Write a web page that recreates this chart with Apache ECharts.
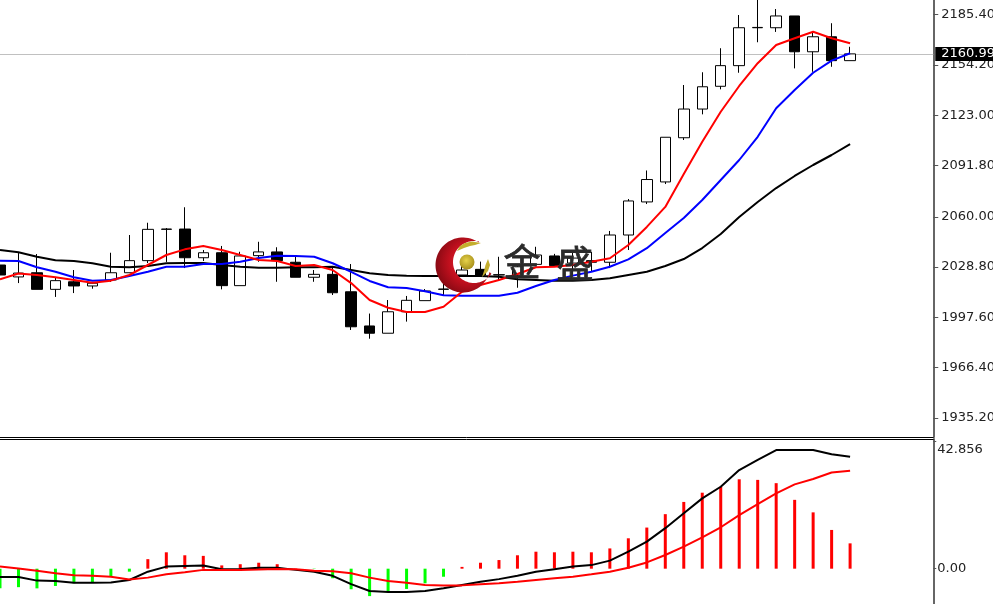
<!DOCTYPE html>
<html>
<head>
<meta charset="utf-8">
<script src="https://cdn.jsdelivr.net/npm/echarts@6/dist/echarts.min.js"></script>
<style>html,body{margin:0;padding:0;background:#fff}#c{width:993px;height:604px}</style>
</head>
<body>
<div id="c"></div>
<script>
// [open, close, low, high]
const candles = [
[2030.1,2023.9,2022.0,2033.0],[2022.7,2025.1,2018.9,2037.5],[2025.3,2015.0,2015.0,2036.9],[2015.0,2020.4,2010.3,2022.7],
[2019.7,2017.1,2012.7,2027.0],[2017.1,2018.8,2015.4,2019.0],[2020.8,2025.3,2019.6,2037.7],[2025.3,2032.8,2025.3,2048.7],
[2032.8,2052.2,2031.3,2056.3],[2052.2,2052.4,2032.0,2053.0],[2052.4,2034.6,2028.2,2065.9],[2034.6,2037.7,2032.6,2039.4],
[2037.7,2017.3,2015.0,2041.9],[2017.3,2035.7,2017.3,2038.3],[2035.9,2038.2,2032.1,2044.5],[2038.2,2032.8,2019.7,2041.1],
[2031.8,2022.5,2022.5,2036.3],[2022.5,2024.3,2019.7,2027.0],[2024.3,2012.9,2011.5,2028.9],[2013.5,1991.8,1989.8,2030.7],
[1992.3,1987.8,1984.4,2000.0],[1987.8,2001.1,1987.8,2008.4],[2001.1,2008.2,1995.0,2010.9],[2008.0,2014.0,2008.0,2015.2],
[2015.0,2015.2,2010.9,2022.0],[2023.9,2027.0,2022.7,2030.1],[2027.4,2023.9,2023.9,2032.2],[2023.9,2024.1,2020.8,2035.2],
[2023.9,2029.0,2016.0,2030.1],[2030.5,2036.3,2030.5,2041.4],[2035.7,2029.7,2029.0,2037.0],[2031.3,2034.4,2023.9,2038.2],
[2032.8,2031.8,2025.8,2038.2],[2031.8,2048.7,2028.2,2051.2],[2048.7,2069.8,2039.4,2071.0],[2069.2,2083.1,2067.9,2088.7],
[2081.6,2109.3,2080.3,2109.3],[2109.0,2126.8,2107.6,2141.7],[2126.8,2140.6,2123.5,2149.6],[2140.9,2153.7,2139.0,2164.5],
[2153.7,2177.2,2149.3,2185.1],[2177.2,2177.4,2168.2,2196.3],[2177.2,2184.5,2174.6,2188.8],[2184.5,2162.3,2152.0,2184.5],
[2162.3,2171.6,2149.9,2174.6],[2171.6,2156.8,2153.0,2180.0],[2156.8,2160.99,2156.8,2165.4]
];
const maRed = [2021.2,2024.8,2023.9,2022.5,2020.8,2019.1,2020.4,2023.9,2030.1,2036.3,2039.8,2041.9,2039.4,2036.3,2033.2,2032.6,2029.5,2030.1,2027.0,2018.9,2008.4,2003.6,2001.0,2001.0,2004.2,2013.5,2017.7,2020.8,2024.5,2028.7,2029.0,2030.1,2032.1,2034.3,2042.5,2053.7,2066.1,2086.5,2106.5,2125.1,2141.1,2155.2,2166.5,2170.7,2174.7,2170.7,2167.6];
const maBlue = [2032.8,2032.6,2028.7,2025.9,2022.5,2020.4,2020.8,2023.3,2025.9,2029.0,2029.0,2030.7,2030.7,2032.1,2034.4,2035.9,2035.7,2035.2,2031.2,2025.9,2020.2,2016.3,2015.8,2013.8,2011.3,2011.1,2011.1,2011.1,2012.9,2017.1,2020.8,2023.5,2025.9,2029.0,2033.6,2040.5,2049.9,2059.2,2070.4,2082.8,2095.2,2109.6,2127.3,2138.6,2149.3,2156.8,2161.4];
const maBlack = [2039.4,2038.0,2035.2,2033.0,2032.6,2031.2,2029.0,2028.7,2029.5,2031.2,2031.3,2031.3,2030.1,2029.0,2028.4,2028.4,2028.7,2028.7,2029.0,2027.0,2025.0,2023.9,2023.5,2023.3,2023.3,2023.3,2023.3,2022.8,2021.2,2020.8,2020.4,2020.4,2020.8,2021.9,2023.9,2025.9,2029.5,2033.8,2040.6,2049.3,2059.9,2069.2,2077.8,2085.3,2092.1,2098.3,2105.1];
const histogram = [-6.6,-6.2,-6.6,-5.8,-4.9,-4.6,-2.7,-1.0,3.2,5.5,4.5,4.3,1.1,1.5,2.0,1.5,0.1,-0.1,-3.2,-6.9,-9.2,-7.9,-6.8,-4.9,-2.7,0.6,2.0,2.9,4.5,5.7,5.5,5.7,5.5,6.8,10.2,13.8,18.3,22.4,25.5,27.5,30.0,29.8,28.7,23.1,18.9,13.0,8.5];
const macdLine = [-2.8,-2.8,-4.0,-4.1,-4.7,-4.7,-4.6,-3.8,-1.0,0.7,0.9,1.1,-0.2,-0.1,0.3,0.3,-0.4,-1.0,-2.4,-5.2,-7.5,-7.8,-7.8,-7.5,-6.6,-5.5,-4.4,-3.5,-2.4,-1.0,-0.2,0.7,1.2,2.7,5.7,9.1,13.6,18.6,23.6,27.5,33.1,36.5,39.8,39.8,39.8,38.4,37.6];
const signalLine = [0.7,0.1,-0.7,-1.5,-2.2,-2.4,-2.7,-3.6,-3.0,-1.9,-1.2,-0.4,-0.4,-0.4,-0.3,-0.1,-0.2,-0.7,-0.9,-1.5,-3.0,-4.1,-4.7,-5.5,-5.6,-5.6,-5.2,-4.9,-4.4,-3.8,-3.2,-2.7,-1.9,-1.0,0.3,2.1,4.6,7.4,10.5,13.9,18.0,21.7,25.3,28.3,30.1,32.3,32.9];
const priceTicks = [1935.2,1966.4,1997.6,2028.8,2060.0,2091.8,2123.0,2154.2,2185.4];
const macdTicks = [0,42.856];
const lastPrice = 2160.99;
const categories = [];
for (let i = 0; i < 51; i++) categories.push(String(i));

// logo outline (watermark only, not data)
function arc(cx,cy,r,a0,a1,n){const p=[];for(let i=0;i<=n;i++){const a=(a0+(a1-a0)*i/n)*Math.PI/180;p.push([cx+r*Math.cos(a),cy+r*Math.sin(a)]);}return p;}
const crescent = arc(463,265,27.5,-55,-345,60).concat(arc(474,262,21,34,284,50));
const leafTop = [[457,251],[460,246],[465,243],[472,241.5],[481,243],[475,245],[470,246],[464,248]];
const leafRight = [[488,259],[490,265],[488,271],[482,277],[484,271],[485.5,265]];

const FONT = '"DejaVu Sans"';
const chart = echarts.init(document.getElementById('c'), null, {renderer:'canvas'});
const hidden = {axisTick:{show:false},axisLabel:{show:false},splitLine:{show:false}};
const lineSeries = (data,color,x,y,z) => ({type:'line',data,xAxisIndex:x,yAxisIndex:y,symbol:'none',smooth:false,z,
  lineStyle:{color,width:2},itemStyle:{color},silent:true});
chart.setOption({
  animation:false,
  backgroundColor:'#fff',
  grid:[
    {left:-9.24,top:0,width:942.5,height:437,containLabel:false,outerBoundsMode:'none'},
    {left:-9.24,top:439,width:942.5,height:165,containLabel:false,outerBoundsMode:'none'}
  ],
  xAxis:[
    Object.assign({type:'category',gridIndex:0,data:categories,position:'bottom',boundaryGap:true,
      axisLine:{show:true,onZero:false,lineStyle:{color:'#000',width:1}}},hidden),
    Object.assign({type:'category',gridIndex:1,data:categories,position:'top',boundaryGap:true,
      axisLine:{show:true,onZero:false,lineStyle:{color:'#000',width:1}}},hidden)
  ],
  yAxis:[
    {type:'value',gridIndex:0,position:'right',min:1923.46,max:2194.4,scale:true,splitLine:{show:false},
     axisLine:{show:true,lineStyle:{color:'#666',width:2}},
     axisTick:{show:true,length:5,inside:false,lineStyle:{color:'#555'},customValues:priceTicks},
     axisLabel:{show:true,margin:8,color:'#222',fontFamily:FONT,fontSize:13,customValues:priceTicks,padding:[2,0,0,0],
       formatter:v=>v.toFixed(2),showMinLabel:true,showMaxLabel:true}},
    {type:'value',gridIndex:1,position:'right',min:-11.85,max:43.52,splitLine:{show:false},
     axisLine:{show:true,lineStyle:{color:'#666',width:2}},
     axisTick:{show:true,length:3,lineStyle:{color:'#555'},customValues:macdTicks},
     axisLabel:{show:true,margin:4,color:'#222',fontFamily:FONT,fontSize:13,customValues:macdTicks,padding:[2,0,0,0],
       verticalAlignMaxLabel:'top',
       formatter:v=>v===0?'0.00':String(v),showMinLabel:true,showMaxLabel:true}}
  ],
  series:[
    {type:'candlestick',xAxisIndex:0,yAxisIndex:0,data:candles,barWidth:11,z:3,silent:true,
     itemStyle:{color:'#fff',color0:'#000',borderColor:'#000',borderColor0:'#000',borderWidth:1},
     markLine:{silent:true,symbol:'none',animation:false,z:1,
       lineStyle:{color:'#c0c0c0',type:'solid',width:1},
       label:{show:true,position:'end',distance:2,formatter:()=>lastPrice.toFixed(2),color:'#fff',backgroundColor:'#000',
         fontFamily:FONT,fontSize:13,padding:[0,8,0,6],lineHeight:14},
       data:[{yAxis:lastPrice}]}},
    lineSeries(maBlack,'#000',0,0,4),
    lineSeries(maBlue,'#0000ff',0,0,5),
    lineSeries(maRed,'#ff0000',0,0,6),
    {type:'bar',xAxisIndex:1,yAxisIndex:1,data:histogram,barWidth:3,z:3,silent:true,
     itemStyle:{color:p=>p.value>=0?'#ff0000':'#00ff00'}},
    lineSeries(macdLine,'#000',1,1,4),
    lineSeries(signalLine,'#ff0000',1,1,5)
  ],
  graphic:[
    {type:'polygon',z:100,silent:true,shape:{points:crescent},
     style:{fill:new echarts.graphic.RadialGradient(0.6,0.45,0.6,[{offset:0,color:'#e8283a'},{offset:0.6,color:'#c2101e'},{offset:1,color:'#8c0a14'}])}},
    {type:'circle',z:101,silent:true,shape:{cx:467,cy:262,r:7.5},
     style:{fill:new echarts.graphic.RadialGradient(0.45,0.4,0.6,[{offset:0,color:'#e6d24a'},{offset:1,color:'#a8901c'}])}},
    {type:'polygon',z:101,silent:true,shape:{points:leafTop},style:{fill:'#c4ae2e'}},
    {type:'polygon',z:101,silent:true,shape:{points:leafRight},style:{fill:'#c4ae2e'}},
    {type:'text',z:102,silent:true,left:503,top:243,
     style:{text:'金',fill:'#2a2a2a',stroke:'#2a2a2a',lineWidth:0.8,font:'normal 37px "Noto Sans CJK SC"'}},
    {type:'text',z:102,silent:true,left:556,top:245,
     style:{text:'盛',fill:'#2a2a2a',stroke:'#2a2a2a',lineWidth:0.8,font:'normal 37px "Noto Sans CJK SC"'}}
  ]
});
</script>
</body>
</html>
